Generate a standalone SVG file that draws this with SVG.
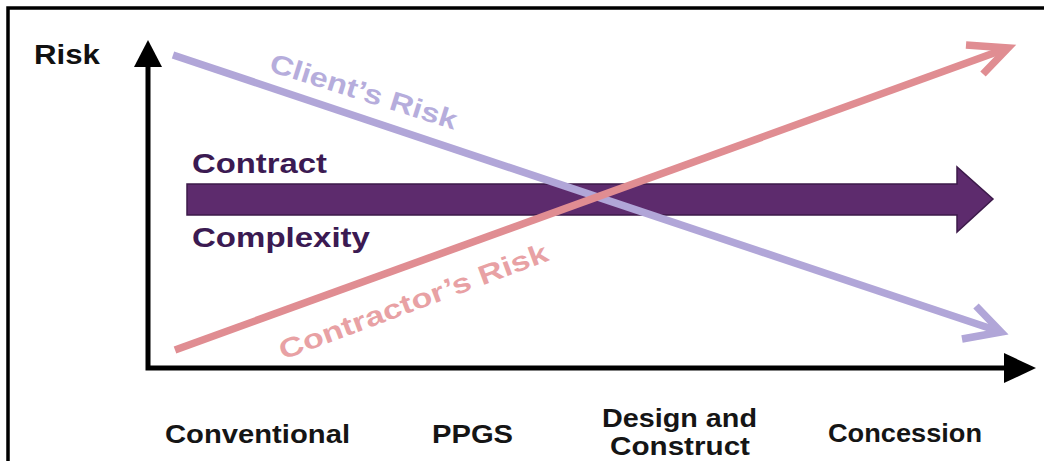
<svg xmlns="http://www.w3.org/2000/svg" width="1044" height="461" viewBox="0 0 1044 461">
  <style>
    .lbl { font-family: "Liberation Sans", Arial, sans-serif; font-weight: bold; }
    .axis-txt { fill: #151515; font-size: 25px; }
    .cc-txt { fill: #3b1a52; font-size: 27px; }
    .client { fill: none; stroke: #b1a6d8; stroke-width: 7.5; }
    .contractor { fill: none; stroke: #e08d92; stroke-width: 7.5; }
  </style>
  <rect width="1044" height="461" fill="#ffffff"/>

  <!-- frame -->
  <path d="M8,461 V8 H1044" fill="none" stroke="#000" stroke-width="3.5"/>

  <!-- axes -->
  <g id="axes">
    <path d="M148,66 V368 H1005" fill="none" stroke="#000" stroke-width="5"/>
    <polygon points="148,40 134,67 162,67" fill="#000"/>
    <polygon points="1004,353 1036,368 1004,383" fill="#000"/>
    <text class="lbl" x="34" y="64" font-size="27" fill="#111" textLength="66" lengthAdjust="spacingAndGlyphs">Risk</text>
  </g>

  <!-- contract complexity arrow -->
  <g id="complexity">
    <polygon points="187,184 957,184 957,167 993,199 957,232 957,215 187,215" fill="#5d2b6d" stroke="#3c1a4a" stroke-width="1.5"/>
    <text class="lbl cc-txt" x="192" y="173" textLength="135" lengthAdjust="spacingAndGlyphs">Contract</text>
    <text class="lbl cc-txt" x="192" y="247" textLength="178" lengthAdjust="spacingAndGlyphs">Complexity</text>
  </g>

  <!-- risk lines -->
  <g id="connectors">
    <g id="client-risk">
      <line class="client" x1="173" y1="55" x2="998" y2="331"/>
      <polyline class="client" points="976,306 1001,332 962,339"/>
      <text class="lbl" transform="translate(268,71) rotate(17.5)" font-size="27" fill="#b6addc" textLength="195" lengthAdjust="spacingAndGlyphs">Client’s Risk</text>
    </g>
    <g id="contractor-risk">
      <line class="contractor" x1="175" y1="350" x2="1005" y2="49"/>
      <polyline class="contractor" points="966,45 1008,48 983,74"/>
      <text class="lbl" transform="translate(283,360) rotate(-20.5)" font-size="27" fill="#e8a1a4" textLength="285" lengthAdjust="spacingAndGlyphs">Contractor’s Risk</text>
    </g>
  </g>

  <!-- procurement routes -->
  <g id="routes">
    <text class="lbl axis-txt" x="165" y="443" textLength="185" lengthAdjust="spacingAndGlyphs">Conventional</text>
    <text class="lbl axis-txt" x="432" y="443" textLength="81" lengthAdjust="spacingAndGlyphs">PPGS</text>
    <text class="lbl axis-txt" x="602" y="427" textLength="155" lengthAdjust="spacingAndGlyphs">Design and</text>
    <text class="lbl axis-txt" x="610" y="455" textLength="140" lengthAdjust="spacingAndGlyphs">Construct</text>
    <text class="lbl axis-txt" x="828" y="442" textLength="154" lengthAdjust="spacingAndGlyphs">Concession</text>
  </g>
</svg>
